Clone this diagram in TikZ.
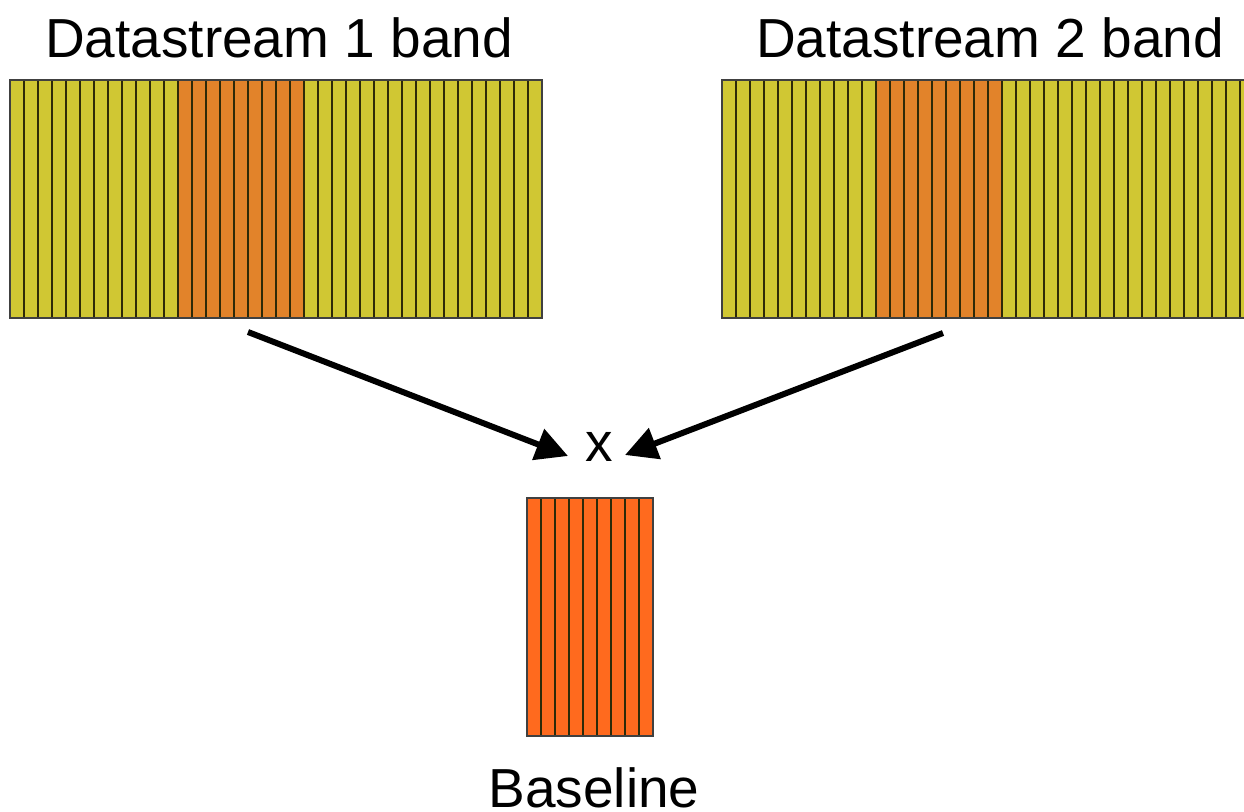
\documentclass[tikz,border=0pt]{standalone}
\usepackage{fontspec}
\setmainfont{Liberation Sans}
\usetikzlibrary{positioning,calc,arrows.meta}
\definecolor{bandyellow}{HTML}{D0C733}
\definecolor{bandorange}{HTML}{E2832A}
\definecolor{baseorange}{HTML}{FF6A1E}
\definecolor{stripeline}{HTML}{2E2A08}

\begin{document}
\begin{tikzpicture}[x=1pt,y=-1pt,
	band/.style={fill=bandyellow, inner sep=0pt, outer sep=0pt, minimum height=238pt, anchor=north west},
	stripe/.style={draw=stripeline, line width=2pt},
	border/.style={draw=black!75, line width=1.6pt},
	label/.style={font=\fontsize{55}{60}\selectfont, anchor=base, inner sep=0pt, text depth=0pt},
	flow/.style={line width=6pt, -{Triangle[length=32pt, width=32pt]}}]
	\useasboundingbox (0,0) rectangle (1244,811);
	\clip (0,0) rectangle (1244,811);

	% first band
	\node[band, minimum width=532pt] (band1) at (10,80) {};
	\fill[bandorange] ($(band1.north west)+(168,0)$) rectangle ($(band1.south west)+(294,0)$);
	\foreach \i in {1,...,37}
		\draw[stripe] ($(band1.north west)+(\i*14,0)$) -- ($(band1.south west)+(\i*14,0)$);
	\draw[border] (band1.north west) rectangle (band1.south east);
	\node[label] (title1) at (279,57) {Datastream 1 band};

	% second band
	\node[band, minimum width=546pt] (band2) at (722,80) {};
	\fill[bandorange] ($(band2.north west)+(154,0)$) rectangle ($(band2.south west)+(280,0)$);
	\foreach \i in {1,...,38}
		\draw[stripe] ($(band2.north west)+(\i*14,0)$) -- ($(band2.south west)+(\i*14,0)$);
	\draw[border] (band2.north west) rectangle (band2.south east);
	\node[label] (title2) at (990,57) {Datastream 2 band};

	% product
	\node[label] (prod) at (599,461) {x};
	\coordinate (from1) at (248,332);
	\coordinate (from2) at (943,333);
	\coordinate (to1) at ($(prod.base)+(-31,-5)$);
	\coordinate (to2) at ($(prod.base)+(26,-6)$);
	\draw[flow] (from1) -- (to1);
	\draw[flow] (from2) -- (to2);

	% baseline
	\node[band, fill=baseorange, minimum width=126pt] (base) at (527,498) {};
	\foreach \i in {1,...,8}
		\draw[stripe] ($(base.north west)+(\i*14,0)$) -- ($(base.south west)+(\i*14,0)$);
	\draw[border] (base.north west) rectangle (base.south east);
	\node[label] (basetext) at (594,807) {Baseline};
\end{tikzpicture}
\end{document}
